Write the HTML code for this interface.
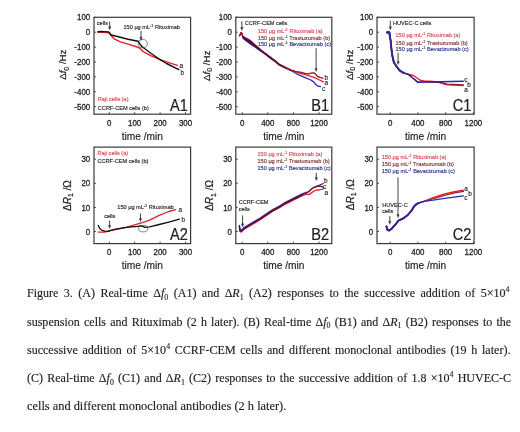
<!DOCTYPE html>
<html><head><meta charset="utf-8"><style>html,body{margin:0;padding:0;background:#fff;overflow:hidden}
body{position:relative;width:520px;height:432px}
#fig{position:absolute;left:0;top:0;width:520px;height:432px;filter:blur(0.3px)}
svg{display:block;position:absolute;left:0;top:0}
.cap{position:absolute;left:27.2px;font-family:"Liberation Serif","Times New Roman",serif;font-size:13px;line-height:13px;height:13px;color:#1c1c1c;-webkit-text-stroke:0.15px #1c1c1c;white-space:nowrap;transform:scaleX(0.925);transform-origin:0 0}
.cap i{font-style:italic}
.sb{font-size:8.5px;position:relative;top:2.6px;line-height:0}
.sp{font-size:8.5px;position:relative;top:-5px;line-height:0}</style></head>
<body>
<div id="fig">
<svg width="520" height="432" viewBox="0 0 520 432" font-family="Liberation Sans, Arial, sans-serif">
<rect width="520" height="432" fill="#fff"/>
<rect x="94.0" y="17.3" width="96.6" height="96.9" fill="none" stroke="#3a3a3a" stroke-width="1.2"/>
<path d="M109.3,114.2 L109.3,112.2" stroke="#3a3a3a" stroke-width="0.9"/>
<text transform="translate(109.25,125.90) scale(0.88,1)" font-size="9.0" text-anchor="middle" fill="#222" stroke="#222" stroke-width="0.3">0</text>
<path d="M134.7,114.2 L134.7,112.2" stroke="#3a3a3a" stroke-width="0.9"/>
<text transform="translate(134.67,125.90) scale(0.88,1)" font-size="9.0" text-anchor="middle" fill="#222" stroke="#222" stroke-width="0.3">100</text>
<path d="M160.1,114.2 L160.1,112.2" stroke="#3a3a3a" stroke-width="0.9"/>
<text transform="translate(160.09,125.90) scale(0.88,1)" font-size="9.0" text-anchor="middle" fill="#222" stroke="#222" stroke-width="0.3">200</text>
<path d="M185.5,114.2 L185.5,112.2" stroke="#3a3a3a" stroke-width="0.9"/>
<text transform="translate(185.52,125.90) scale(0.88,1)" font-size="9.0" text-anchor="middle" fill="#222" stroke="#222" stroke-width="0.3">300</text>
<path d="M94.0,17.3 L96.0,17.3" stroke="#3a3a3a" stroke-width="0.9"/>
<text transform="translate(90.20,20.40) scale(0.88,1)" font-size="9.0" text-anchor="end" fill="#222" stroke="#222" stroke-width="0.3">100</text>
<path d="M94.0,32.2 L96.0,32.2" stroke="#3a3a3a" stroke-width="0.9"/>
<text transform="translate(90.20,35.31) scale(0.88,1)" font-size="9.0" text-anchor="end" fill="#222" stroke="#222" stroke-width="0.3">0</text>
<path d="M94.0,47.1 L96.0,47.1" stroke="#3a3a3a" stroke-width="0.9"/>
<text transform="translate(90.20,50.22) scale(0.88,1)" font-size="9.0" text-anchor="end" fill="#222" stroke="#222" stroke-width="0.3">-100</text>
<path d="M94.0,62.0 L96.0,62.0" stroke="#3a3a3a" stroke-width="0.9"/>
<text transform="translate(90.20,65.12) scale(0.88,1)" font-size="9.0" text-anchor="end" fill="#222" stroke="#222" stroke-width="0.3">-200</text>
<path d="M94.0,76.9 L96.0,76.9" stroke="#3a3a3a" stroke-width="0.9"/>
<text transform="translate(90.20,80.03) scale(0.88,1)" font-size="9.0" text-anchor="end" fill="#222" stroke="#222" stroke-width="0.3">-300</text>
<path d="M94.0,91.8 L96.0,91.8" stroke="#3a3a3a" stroke-width="0.9"/>
<text transform="translate(90.20,94.94) scale(0.88,1)" font-size="9.0" text-anchor="end" fill="#222" stroke="#222" stroke-width="0.3">-400</text>
<path d="M94.0,106.7 L96.0,106.7" stroke="#3a3a3a" stroke-width="0.9"/>
<text transform="translate(90.20,109.85) scale(0.88,1)" font-size="9.0" text-anchor="end" fill="#222" stroke="#222" stroke-width="0.3">-500</text>
<text transform="translate(142.30,139.80)" font-size="10.2" text-anchor="middle" fill="#222" stroke="#222" stroke-width="0.15">time /min</text>
<text transform="translate(187.80,110.70) scale(0.9,1)" font-size="16.2" text-anchor="end" fill="#222" stroke="#111" stroke-width="0.2">A1</text>
<rect x="235.8" y="17.3" width="96.0" height="96.9" fill="none" stroke="#3a3a3a" stroke-width="1.2"/>
<path d="M242.2,114.2 L242.2,112.2" stroke="#3a3a3a" stroke-width="0.9"/>
<text transform="translate(242.20,125.90) scale(0.88,1)" font-size="9.0" text-anchor="middle" fill="#222" stroke="#222" stroke-width="0.3">0</text>
<path d="M267.8,114.2 L267.8,112.2" stroke="#3a3a3a" stroke-width="0.9"/>
<text transform="translate(267.80,125.90) scale(0.88,1)" font-size="9.0" text-anchor="middle" fill="#222" stroke="#222" stroke-width="0.3">400</text>
<path d="M293.4,114.2 L293.4,112.2" stroke="#3a3a3a" stroke-width="0.9"/>
<text transform="translate(293.40,125.90) scale(0.88,1)" font-size="9.0" text-anchor="middle" fill="#222" stroke="#222" stroke-width="0.3">800</text>
<path d="M319.0,114.2 L319.0,112.2" stroke="#3a3a3a" stroke-width="0.9"/>
<text transform="translate(319.00,125.90) scale(0.88,1)" font-size="9.0" text-anchor="middle" fill="#222" stroke="#222" stroke-width="0.3">1200</text>
<path d="M235.8,17.3 L237.8,17.3" stroke="#3a3a3a" stroke-width="0.9"/>
<text transform="translate(232.00,20.40) scale(0.88,1)" font-size="9.0" text-anchor="end" fill="#222" stroke="#222" stroke-width="0.3">100</text>
<path d="M235.8,32.2 L237.8,32.2" stroke="#3a3a3a" stroke-width="0.9"/>
<text transform="translate(232.00,35.31) scale(0.88,1)" font-size="9.0" text-anchor="end" fill="#222" stroke="#222" stroke-width="0.3">0</text>
<path d="M235.8,47.1 L237.8,47.1" stroke="#3a3a3a" stroke-width="0.9"/>
<text transform="translate(232.00,50.22) scale(0.88,1)" font-size="9.0" text-anchor="end" fill="#222" stroke="#222" stroke-width="0.3">-100</text>
<path d="M235.8,62.0 L237.8,62.0" stroke="#3a3a3a" stroke-width="0.9"/>
<text transform="translate(232.00,65.12) scale(0.88,1)" font-size="9.0" text-anchor="end" fill="#222" stroke="#222" stroke-width="0.3">-200</text>
<path d="M235.8,76.9 L237.8,76.9" stroke="#3a3a3a" stroke-width="0.9"/>
<text transform="translate(232.00,80.03) scale(0.88,1)" font-size="9.0" text-anchor="end" fill="#222" stroke="#222" stroke-width="0.3">-300</text>
<path d="M235.8,91.8 L237.8,91.8" stroke="#3a3a3a" stroke-width="0.9"/>
<text transform="translate(232.00,94.94) scale(0.88,1)" font-size="9.0" text-anchor="end" fill="#222" stroke="#222" stroke-width="0.3">-400</text>
<path d="M235.8,106.7 L237.8,106.7" stroke="#3a3a3a" stroke-width="0.9"/>
<text transform="translate(232.00,109.85) scale(0.88,1)" font-size="9.0" text-anchor="end" fill="#222" stroke="#222" stroke-width="0.3">-500</text>
<text transform="translate(283.80,139.80)" font-size="10.2" text-anchor="middle" fill="#222" stroke="#222" stroke-width="0.15">time /min</text>
<text transform="translate(329.00,110.70) scale(0.9,1)" font-size="16.2" text-anchor="end" fill="#222" stroke="#111" stroke-width="0.2">B1</text>
<rect x="377.0" y="17.3" width="97.10000000000002" height="96.9" fill="none" stroke="#3a3a3a" stroke-width="1.2"/>
<path d="M390.2,114.2 L390.2,112.2" stroke="#3a3a3a" stroke-width="0.9"/>
<text transform="translate(390.18,125.90) scale(0.88,1)" font-size="9.0" text-anchor="middle" fill="#222" stroke="#222" stroke-width="0.3">0</text>
<path d="M417.9,114.2 L417.9,112.2" stroke="#3a3a3a" stroke-width="0.9"/>
<text transform="translate(417.92,125.90) scale(0.88,1)" font-size="9.0" text-anchor="middle" fill="#222" stroke="#222" stroke-width="0.3">400</text>
<path d="M445.7,114.2 L445.7,112.2" stroke="#3a3a3a" stroke-width="0.9"/>
<text transform="translate(445.66,125.90) scale(0.88,1)" font-size="9.0" text-anchor="middle" fill="#222" stroke="#222" stroke-width="0.3">800</text>
<path d="M473.4,114.2 L473.4,112.2" stroke="#3a3a3a" stroke-width="0.9"/>
<text transform="translate(473.41,125.90) scale(0.88,1)" font-size="9.0" text-anchor="middle" fill="#222" stroke="#222" stroke-width="0.3">1200</text>
<path d="M377.0,17.3 L379.0,17.3" stroke="#3a3a3a" stroke-width="0.9"/>
<text transform="translate(373.20,20.40) scale(0.88,1)" font-size="9.0" text-anchor="end" fill="#222" stroke="#222" stroke-width="0.3">100</text>
<path d="M377.0,32.2 L379.0,32.2" stroke="#3a3a3a" stroke-width="0.9"/>
<text transform="translate(373.20,35.31) scale(0.88,1)" font-size="9.0" text-anchor="end" fill="#222" stroke="#222" stroke-width="0.3">0</text>
<path d="M377.0,47.1 L379.0,47.1" stroke="#3a3a3a" stroke-width="0.9"/>
<text transform="translate(373.20,50.22) scale(0.88,1)" font-size="9.0" text-anchor="end" fill="#222" stroke="#222" stroke-width="0.3">-100</text>
<path d="M377.0,62.0 L379.0,62.0" stroke="#3a3a3a" stroke-width="0.9"/>
<text transform="translate(373.20,65.12) scale(0.88,1)" font-size="9.0" text-anchor="end" fill="#222" stroke="#222" stroke-width="0.3">-200</text>
<path d="M377.0,76.9 L379.0,76.9" stroke="#3a3a3a" stroke-width="0.9"/>
<text transform="translate(373.20,80.03) scale(0.88,1)" font-size="9.0" text-anchor="end" fill="#222" stroke="#222" stroke-width="0.3">-300</text>
<path d="M377.0,91.8 L379.0,91.8" stroke="#3a3a3a" stroke-width="0.9"/>
<text transform="translate(373.20,94.94) scale(0.88,1)" font-size="9.0" text-anchor="end" fill="#222" stroke="#222" stroke-width="0.3">-400</text>
<path d="M377.0,106.7 L379.0,106.7" stroke="#3a3a3a" stroke-width="0.9"/>
<text transform="translate(373.20,109.85) scale(0.88,1)" font-size="9.0" text-anchor="end" fill="#222" stroke="#222" stroke-width="0.3">-500</text>
<text transform="translate(425.55,139.80)" font-size="10.2" text-anchor="middle" fill="#222" stroke="#222" stroke-width="0.15">time /min</text>
<text transform="translate(471.30,110.70) scale(0.9,1)" font-size="16.2" text-anchor="end" fill="#222" stroke="#111" stroke-width="0.2">C1</text>
<rect x="94.0" y="147.1" width="96.6" height="96.5" fill="none" stroke="#3a3a3a" stroke-width="1.2"/>
<path d="M109.3,243.6 L109.3,241.6" stroke="#3a3a3a" stroke-width="0.9"/>
<text transform="translate(109.25,254.70) scale(0.88,1)" font-size="9.0" text-anchor="middle" fill="#222" stroke="#222" stroke-width="0.3">0</text>
<path d="M134.7,243.6 L134.7,241.6" stroke="#3a3a3a" stroke-width="0.9"/>
<text transform="translate(134.67,254.70) scale(0.88,1)" font-size="9.0" text-anchor="middle" fill="#222" stroke="#222" stroke-width="0.3">100</text>
<path d="M160.1,243.6 L160.1,241.6" stroke="#3a3a3a" stroke-width="0.9"/>
<text transform="translate(160.09,254.70) scale(0.88,1)" font-size="9.0" text-anchor="middle" fill="#222" stroke="#222" stroke-width="0.3">200</text>
<path d="M185.5,243.6 L185.5,241.6" stroke="#3a3a3a" stroke-width="0.9"/>
<text transform="translate(185.52,254.70) scale(0.88,1)" font-size="9.0" text-anchor="middle" fill="#222" stroke="#222" stroke-width="0.3">300</text>
<path d="M94.0,159.2 L96.0,159.2" stroke="#3a3a3a" stroke-width="0.9"/>
<text transform="translate(90.20,162.26) scale(0.88,1)" font-size="9.0" text-anchor="end" fill="#222" stroke="#222" stroke-width="0.3">30</text>
<path d="M94.0,183.3 L96.0,183.3" stroke="#3a3a3a" stroke-width="0.9"/>
<text transform="translate(90.20,186.39) scale(0.88,1)" font-size="9.0" text-anchor="end" fill="#222" stroke="#222" stroke-width="0.3">20</text>
<path d="M94.0,207.4 L96.0,207.4" stroke="#3a3a3a" stroke-width="0.9"/>
<text transform="translate(90.20,210.51) scale(0.88,1)" font-size="9.0" text-anchor="end" fill="#222" stroke="#222" stroke-width="0.3">10</text>
<path d="M94.0,231.5 L96.0,231.5" stroke="#3a3a3a" stroke-width="0.9"/>
<text transform="translate(90.20,234.64) scale(0.88,1)" font-size="9.0" text-anchor="end" fill="#222" stroke="#222" stroke-width="0.3">0</text>
<text transform="translate(142.30,269.20)" font-size="10.2" text-anchor="middle" fill="#222" stroke="#222" stroke-width="0.15">time /min</text>
<text transform="translate(187.80,240.10) scale(0.9,1)" font-size="16.2" text-anchor="end" fill="#222" stroke="#111" stroke-width="0.2">A2</text>
<rect x="235.8" y="147.1" width="96.0" height="96.5" fill="none" stroke="#3a3a3a" stroke-width="1.2"/>
<path d="M242.2,243.6 L242.2,241.6" stroke="#3a3a3a" stroke-width="0.9"/>
<text transform="translate(242.20,254.70) scale(0.88,1)" font-size="9.0" text-anchor="middle" fill="#222" stroke="#222" stroke-width="0.3">0</text>
<path d="M267.8,243.6 L267.8,241.6" stroke="#3a3a3a" stroke-width="0.9"/>
<text transform="translate(267.80,254.70) scale(0.88,1)" font-size="9.0" text-anchor="middle" fill="#222" stroke="#222" stroke-width="0.3">400</text>
<path d="M293.4,243.6 L293.4,241.6" stroke="#3a3a3a" stroke-width="0.9"/>
<text transform="translate(293.40,254.70) scale(0.88,1)" font-size="9.0" text-anchor="middle" fill="#222" stroke="#222" stroke-width="0.3">800</text>
<path d="M319.0,243.6 L319.0,241.6" stroke="#3a3a3a" stroke-width="0.9"/>
<text transform="translate(319.00,254.70) scale(0.88,1)" font-size="9.0" text-anchor="middle" fill="#222" stroke="#222" stroke-width="0.3">1200</text>
<path d="M235.8,159.2 L237.8,159.2" stroke="#3a3a3a" stroke-width="0.9"/>
<text transform="translate(232.00,162.26) scale(0.88,1)" font-size="9.0" text-anchor="end" fill="#222" stroke="#222" stroke-width="0.3">30</text>
<path d="M235.8,183.3 L237.8,183.3" stroke="#3a3a3a" stroke-width="0.9"/>
<text transform="translate(232.00,186.39) scale(0.88,1)" font-size="9.0" text-anchor="end" fill="#222" stroke="#222" stroke-width="0.3">20</text>
<path d="M235.8,207.4 L237.8,207.4" stroke="#3a3a3a" stroke-width="0.9"/>
<text transform="translate(232.00,210.51) scale(0.88,1)" font-size="9.0" text-anchor="end" fill="#222" stroke="#222" stroke-width="0.3">10</text>
<path d="M235.8,231.5 L237.8,231.5" stroke="#3a3a3a" stroke-width="0.9"/>
<text transform="translate(232.00,234.64) scale(0.88,1)" font-size="9.0" text-anchor="end" fill="#222" stroke="#222" stroke-width="0.3">0</text>
<text transform="translate(283.80,269.20)" font-size="10.2" text-anchor="middle" fill="#222" stroke="#222" stroke-width="0.15">time /min</text>
<text transform="translate(329.00,240.10) scale(0.9,1)" font-size="16.2" text-anchor="end" fill="#222" stroke="#111" stroke-width="0.2">B2</text>
<rect x="377.0" y="147.1" width="97.10000000000002" height="96.5" fill="none" stroke="#3a3a3a" stroke-width="1.2"/>
<path d="M390.2,243.6 L390.2,241.6" stroke="#3a3a3a" stroke-width="0.9"/>
<text transform="translate(390.18,254.70) scale(0.88,1)" font-size="9.0" text-anchor="middle" fill="#222" stroke="#222" stroke-width="0.3">0</text>
<path d="M417.9,243.6 L417.9,241.6" stroke="#3a3a3a" stroke-width="0.9"/>
<text transform="translate(417.92,254.70) scale(0.88,1)" font-size="9.0" text-anchor="middle" fill="#222" stroke="#222" stroke-width="0.3">400</text>
<path d="M445.7,243.6 L445.7,241.6" stroke="#3a3a3a" stroke-width="0.9"/>
<text transform="translate(445.66,254.70) scale(0.88,1)" font-size="9.0" text-anchor="middle" fill="#222" stroke="#222" stroke-width="0.3">800</text>
<path d="M473.4,243.6 L473.4,241.6" stroke="#3a3a3a" stroke-width="0.9"/>
<text transform="translate(473.41,254.70) scale(0.88,1)" font-size="9.0" text-anchor="middle" fill="#222" stroke="#222" stroke-width="0.3">1200</text>
<path d="M377.0,159.2 L379.0,159.2" stroke="#3a3a3a" stroke-width="0.9"/>
<text transform="translate(373.20,162.26) scale(0.88,1)" font-size="9.0" text-anchor="end" fill="#222" stroke="#222" stroke-width="0.3">30</text>
<path d="M377.0,183.3 L379.0,183.3" stroke="#3a3a3a" stroke-width="0.9"/>
<text transform="translate(373.20,186.39) scale(0.88,1)" font-size="9.0" text-anchor="end" fill="#222" stroke="#222" stroke-width="0.3">20</text>
<path d="M377.0,207.4 L379.0,207.4" stroke="#3a3a3a" stroke-width="0.9"/>
<text transform="translate(373.20,210.51) scale(0.88,1)" font-size="9.0" text-anchor="end" fill="#222" stroke="#222" stroke-width="0.3">10</text>
<path d="M377.0,231.5 L379.0,231.5" stroke="#3a3a3a" stroke-width="0.9"/>
<text transform="translate(373.20,234.64) scale(0.88,1)" font-size="9.0" text-anchor="end" fill="#222" stroke="#222" stroke-width="0.3">0</text>
<text transform="translate(425.55,269.20)" font-size="10.2" text-anchor="middle" fill="#222" stroke="#222" stroke-width="0.15">time /min</text>
<text transform="translate(471.30,240.10) scale(0.9,1)" font-size="16.2" text-anchor="end" fill="#222" stroke="#111" stroke-width="0.2">C2</text>
<text transform="translate(66.4,64.7) rotate(-90)" font-size="9.7" text-anchor="middle" fill="#222" stroke="#222" stroke-width="0.22">&#916;<tspan font-style="italic">f</tspan><tspan font-size="7" dy="2.2">0</tspan><tspan dy="-2.2"> /Hz</tspan></text>
<text transform="translate(210.2,65.8) rotate(-90)" font-size="9.7" text-anchor="middle" fill="#222" stroke="#222" stroke-width="0.22">&#916;<tspan font-style="italic">f</tspan><tspan font-size="7" dy="2.2">0</tspan><tspan dy="-2.2"> /Hz</tspan></text>
<text transform="translate(352.5,64.8) rotate(-90)" font-size="9.7" text-anchor="middle" fill="#222" stroke="#222" stroke-width="0.22">&#916;<tspan font-style="italic">f</tspan><tspan font-size="7" dy="2.2">0</tspan><tspan dy="-2.2"> /Hz</tspan></text>
<text transform="translate(71.1,195.6) rotate(-90)" font-size="10" text-anchor="middle" fill="#222" stroke="#222" stroke-width="0.22">&#916;<tspan font-style="italic">R</tspan><tspan font-size="7" dy="2.2">1</tspan><tspan dy="-2.2"> /&#937;</tspan></text>
<text transform="translate(213.4,195.4) rotate(-90)" font-size="10" text-anchor="middle" fill="#222" stroke="#222" stroke-width="0.22">&#916;<tspan font-style="italic">R</tspan><tspan font-size="7" dy="2.2">1</tspan><tspan dy="-2.2"> /&#937;</tspan></text>
<text transform="translate(354.2,194.8) rotate(-90)" font-size="10" text-anchor="middle" fill="#222" stroke="#222" stroke-width="0.22">&#916;<tspan font-style="italic">R</tspan><tspan font-size="7" dy="2.2">1</tspan><tspan dy="-2.2"> /&#937;</tspan></text>
<path d="M98.0,32.4 L104.0,32.4 L108.8,32.7 L111.2,35.8 L114.2,38.8 L120.4,41.9 L128.1,44.2 L135.8,46.5 L139.6,48.1 L141.9,50.4 L145.0,52.7 L151.2,55.8 L158.8,59.2 L166.5,61.9 L177.3,65.3" fill="none" stroke="#e4202c" stroke-width="1.4" stroke-linejoin="round" stroke-linecap="round"/>
<path d="M98.0,31.8 L101.0,31.4 L104.0,31.6 L108.8,31.9 L111.2,35.0 L120.4,37.3 L128.1,39.2 L138.1,41.2 L139.6,43.5 L141.9,46.5 L151.2,53.5 L158.8,58.8 L166.5,63.5 L178.8,69.6" fill="none" stroke="#111" stroke-width="1.4" stroke-linejoin="round" stroke-linecap="round"/>
<ellipse cx="142.7" cy="43.7" rx="4.7" ry="4.3" fill="none" stroke="#333" stroke-width="0.6"/>
<text transform="translate(96.80,25.00)" font-size="5.6" text-anchor="start" fill="#222" stroke="#222" stroke-width="0.14">cells</text>
<path d="M109.7,21.6 L109.7,28" stroke="#3a3a3a" stroke-width="0.95"/>
<path d="M108.4,26.8 L109.7,30 L111.0,26.8 Z" fill="#3a3a3a" stroke="#3a3a3a" stroke-width="0.3"/>
<text transform="translate(123.50,28.60)" font-size="5.6" text-anchor="start" fill="#222" stroke="#222" stroke-width="0.14">150 &#956;g mL<tspan font-size="3.8" dy="-2">-1</tspan><tspan dy="2"> Rituximab</tspan></text>
<path d="M141,30.8 L141,38.5" stroke="#3a3a3a" stroke-width="0.95"/>
<path d="M139.7,37.3 L141,40.5 L142.3,37.3 Z" fill="#3a3a3a" stroke="#3a3a3a" stroke-width="0.3"/>
<text transform="translate(179.60,67.60)" font-size="6.5" text-anchor="start" fill="#222" stroke="#222" stroke-width="0.14">a</text>
<text transform="translate(180.60,75.00)" font-size="6.5" text-anchor="start" fill="#222" stroke="#222" stroke-width="0.14">b</text>
<text transform="translate(97.80,101.40)" font-size="5.6" text-anchor="start" fill="#dc4656" stroke="#dc4656" stroke-width="0.14">Raji cells (a)</text>
<text transform="translate(97.80,109.70)" font-size="5.6" text-anchor="start" fill="#222" stroke="#222" stroke-width="0.14">CCRF-CEM cells (b)</text>
<path d="M239.6,35.7 L241.2,32.5 L242.0,33.7 L242.9,37.5 L243.5,38.8 L250.1,43.6 L254.2,46.4 L262.3,52.1 L270.4,58.2 L276.0,62.2 L279.1,65.0 L285.2,68.0 L291.5,70.8 L297.3,74.2 L304.0,77.1 L310.8,80.0 L313.7,81.9 L315.6,84.3 L317.5,85.8 L320.4,86.7" fill="none" stroke="#2428b4" stroke-width="1.3" stroke-linejoin="round" stroke-linecap="round"/>
<path d="M239.6,35.7 L241.2,32.5 L242.0,33.7 L242.9,36.2 L243.7,36.9 L250.1,40.3 L254.2,44.0 L262.3,50.9 L270.4,57.1 L276.0,61.2 L279.1,64.0 L285.2,67.2 L291.5,70.0 L297.3,72.3 L305.0,74.7 L311.7,76.6 L314.6,77.6 L318.5,79.5 L323.3,81.9" fill="none" stroke="#e4202c" stroke-width="1.3" stroke-linejoin="round" stroke-linecap="round"/>
<path d="M239.6,35.7 L241.2,32.5 L242.0,33.7 L242.9,36.9 L243.6,37.8 L250.1,42.0 L254.2,45.2 L262.3,51.5 L270.4,57.7 L276.0,61.7 L279.1,64.5 L285.2,67.6 L291.5,70.4 L295.4,71.3 L301.2,72.3 L305.0,73.3 L308.8,73.8 L310.8,73.1 L314.1,72.8 L315.6,74.2 L317.5,76.3 L320.4,77.6 L322.8,78.1" fill="none" stroke="#8c1c24" stroke-width="1.3" stroke-linejoin="round" stroke-linecap="round"/>
<path d="M242.9,36.2 L243.7,36.9 L250.1,40.3 L254.2,44.0 L262.3,50.9 L270.4,57.1 L276.0,61.2 L279.1,64.0 L285.2,67.2 L285.2,68.0 L279.1,65.0 L276.0,62.2 L270.4,58.2 L262.3,52.1 L254.2,46.4 L250.1,43.6 L243.5,38.8 L242.9,37.5 Z" fill="#4a1040" stroke="#4a1040" stroke-width="0.5" stroke-linejoin="round"/>
<text transform="translate(244.70,24.70)" font-size="5.6" text-anchor="start" fill="#222" stroke="#222" stroke-width="0.14">CCRF-CEM cells</text>
<path d="M241.9,21.2 L241.9,28.5" stroke="#3a3a3a" stroke-width="0.95"/>
<path d="M240.6,27.3 L241.9,30.5 L243.20000000000002,27.3 Z" fill="#3a3a3a" stroke="#3a3a3a" stroke-width="0.3"/>
<text transform="translate(257.90,32.70)" font-size="5.6" text-anchor="start" fill="#dc4656" stroke="#dc4656" stroke-width="0.14">150 &#956;g mL<tspan font-size="3.8" dy="-2">-1</tspan><tspan dy="2"> Rituximab (a)</tspan></text>
<text transform="translate(257.90,39.60)" font-size="5.6" text-anchor="start" fill="#7a3030" stroke="#7a3030" stroke-width="0.14">150 &#956;g mL<tspan font-size="3.8" dy="-2">-1</tspan><tspan dy="2"> Trastuzumab (b)</tspan></text>
<text transform="translate(257.90,45.90)" font-size="5.6" text-anchor="start" fill="#28308a" stroke="#28308a" stroke-width="0.14">150 &#956;g mL<tspan font-size="3.8" dy="-2">-1</tspan><tspan dy="2"> Bevacizumab (c)</tspan></text>
<path d="M316.1,48.2 L316.1,69.6" stroke="#3a3a3a" stroke-width="0.95"/>
<path d="M314.8,68.39999999999999 L316.1,71.6 L317.40000000000003,68.39999999999999 Z" fill="#3a3a3a" stroke="#3a3a3a" stroke-width="0.3"/>
<text transform="translate(324.60,79.60)" font-size="6.5" text-anchor="start" fill="#222" stroke="#222" stroke-width="0.14">b</text>
<text transform="translate(324.60,85.20)" font-size="6.5" text-anchor="start" fill="#222" stroke="#222" stroke-width="0.14">a</text>
<text transform="translate(321.90,90.80)" font-size="6.5" text-anchor="start" fill="#222" stroke="#222" stroke-width="0.14">c</text>
<path d="M387.0,32.4 L389.4,32.4 L389.8,36.0 L390.6,40.5 L391.2,47.2 L392.3,55.6 L393.9,62.5 L396.7,66.7 L398.8,69.4 L400.1,70.8 L403.6,72.9 L408.1,74.3 L413.5,75.5 L420.2,80.2 L424.2,80.9 L433.6,81.5 L440.4,82.9 L447.1,84.9 L463.3,85.6" fill="none" stroke="#e4202c" stroke-width="1.4" stroke-linejoin="round" stroke-linecap="round"/>
<path d="M387.0,32.4 L389.4,32.4 L389.8,36.0 L390.6,40.5 L391.2,47.2 L392.3,55.6 L393.9,62.5 L396.7,66.7 L398.8,69.4 L400.1,70.8 L403.6,72.9 L408.1,74.3 L413.5,78.5 L417.5,81.8 L421.5,82.2 L426.9,82.2 L440.4,82.4 L447.1,84.2 L463.3,84.9" fill="none" stroke="#8c1c24" stroke-width="1.3" stroke-linejoin="round" stroke-linecap="round"/>
<path d="M387.0,32.4 L389.4,32.4 L389.8,36.0 L390.6,40.5 L391.2,47.2 L392.3,55.6 L393.9,62.5 L396.7,66.7 L398.8,69.4 L400.1,70.8 L403.6,72.9 L408.1,74.3 L413.5,78.8 L417.5,82.2 L421.5,82.2 L426.9,81.8 L440.4,81.8 L463.3,81.3" fill="none" stroke="#2428b4" stroke-width="1.4" stroke-linejoin="round" stroke-linecap="round"/>
<path d="M387.0,32.4 L389.4,32.4 L389.8,36.0 L390.6,40.5 L391.2,47.2 L392.3,55.6 L393.9,62.5 L396.7,66.7 L398.8,69.4 L400.1,70.8 L403.6,72.9" fill="none" stroke="#3a2590" stroke-width="2.0" stroke-linejoin="round" stroke-linecap="round"/>
<rect x="386.6" y="31.2" width="3.2" height="2.4" fill="#2a2a9a"/>
<text transform="translate(393.00,25.00)" font-size="5.6" text-anchor="start" fill="#222" stroke="#222" stroke-width="0.14">HUVEC-C cells</text>
<path d="M390.3,20.8 L390.3,28" stroke="#3a3a3a" stroke-width="0.95"/>
<path d="M389.0,26.8 L390.3,30 L391.6,26.8 Z" fill="#3a3a3a" stroke="#3a3a3a" stroke-width="0.3"/>
<text transform="translate(395.50,37.40)" font-size="5.6" text-anchor="start" fill="#dc4656" stroke="#dc4656" stroke-width="0.14">150 &#956;g mL<tspan font-size="3.8" dy="-2">-1</tspan><tspan dy="2"> Rituximab (a)</tspan></text>
<text transform="translate(395.50,44.60)" font-size="5.6" text-anchor="start" fill="#7a3030" stroke="#7a3030" stroke-width="0.14">150 &#956;g mL<tspan font-size="3.8" dy="-2">-1</tspan><tspan dy="2"> Trastuzumab (b)</tspan></text>
<text transform="translate(395.50,51.00)" font-size="5.6" text-anchor="start" fill="#28308a" stroke="#28308a" stroke-width="0.14">150 &#956;g mL<tspan font-size="3.8" dy="-2">-1</tspan><tspan dy="2"> Bevacizumab (c)</tspan></text>
<path d="M398.1,52.6 L398.1,62.8" stroke="#3a3a3a" stroke-width="0.95"/>
<path d="M396.8,61.599999999999994 L398.1,64.8 L399.40000000000003,61.599999999999994 Z" fill="#3a3a3a" stroke="#3a3a3a" stroke-width="0.3"/>
<text transform="translate(464.30,82.00)" font-size="6.5" text-anchor="start" fill="#222" stroke="#222" stroke-width="0.14">c</text>
<text transform="translate(467.20,87.20)" font-size="6.5" text-anchor="start" fill="#222" stroke="#222" stroke-width="0.14">b</text>
<text transform="translate(464.30,92.40)" font-size="6.5" text-anchor="start" fill="#222" stroke="#222" stroke-width="0.14">a</text>
<path d="M98.3,232.1 L104.8,232.1 L110.1,230.7 L115.5,229.6 L126.3,227.4 L137.1,224.2 L142.4,222.6 L149.6,220.2 L159.2,215.4 L168.8,211.5 L175.6,209.6" fill="none" stroke="#e4202c" stroke-width="1.3" stroke-linejoin="round" stroke-linecap="round"/>
<path d="M98.3,225.3 L99.4,228.0 L101.5,230.1 L104.8,231.2 L108.0,231.4 L110.1,230.7 L115.5,229.1 L126.3,227.4 L137.1,226.4 L140.3,225.8 L142.9,226.4 L144.8,227.4 L149.6,226.9 L159.2,224.5 L168.8,222.1 L179.4,219.2" fill="none" stroke="#111" stroke-width="1.3" stroke-linejoin="round" stroke-linecap="round"/>
<ellipse cx="143.2" cy="228.6" rx="4.6" ry="3.3" fill="none" stroke="#333" stroke-width="0.6"/>
<text transform="translate(97.40,154.60)" font-size="5.6" text-anchor="start" fill="#dc4656" stroke="#dc4656" stroke-width="0.14">Raji cells (a)</text>
<text transform="translate(97.40,162.90)" font-size="5.6" text-anchor="start" fill="#222" stroke="#222" stroke-width="0.14">CCRF-CEM cells (b)</text>
<text transform="translate(117.30,209.30)" font-size="5.6" text-anchor="start" fill="#222" stroke="#222" stroke-width="0.14">150 &#956;g mL<tspan font-size="3.8" dy="-2">-1</tspan><tspan dy="2"> Rituximab</tspan></text>
<text transform="translate(178.40,212.00)" font-size="6.5" text-anchor="start" fill="#222" stroke="#222" stroke-width="0.14">a</text>
<text transform="translate(181.50,221.60)" font-size="6.5" text-anchor="start" fill="#222" stroke="#222" stroke-width="0.14">b</text>
<text transform="translate(104.20,217.60)" font-size="5.6" text-anchor="start" fill="#222" stroke="#222" stroke-width="0.14">cells</text>
<path d="M109.6,220.5 L109.6,226.6" stroke="#3a3a3a" stroke-width="0.95"/>
<path d="M108.3,225.4 L109.6,228.6 L110.89999999999999,225.4 Z" fill="#3a3a3a" stroke="#3a3a3a" stroke-width="0.3"/>
<path d="M140.5,213.5 L140.5,219.7" stroke="#3a3a3a" stroke-width="0.95"/>
<path d="M139.2,218.5 L140.5,221.7 L141.8,218.5 Z" fill="#3a3a3a" stroke="#3a3a3a" stroke-width="0.3"/>
<path d="M239.4,227.2 L239.9,231.5 L241.3,232.1 L244.0,229.4 L250.5,225.5 L259.8,220.0 L272.0,211.8 L279.9,207.5 L285.0,204.3 L294.3,199.7 L301.7,196.0 L306.3,194.1 L309.1,194.6 L312.8,191.9 L315.6,190.2 L319.3,190.0 L323.4,188.8" fill="none" stroke="#e4202c" stroke-width="1.3" stroke-linejoin="round" stroke-linecap="round"/>
<path d="M239.4,225.4 L239.9,229.7 L241.3,230.3 L244.0,227.6 L250.5,223.7 L259.8,218.2 L272.0,210.0 L279.9,205.7 L285.0,202.5 L294.3,197.9 L301.7,194.2 L306.3,192.3 L308.1,191.9 L311.9,188.6 L314.6,187.0 L318.3,186.0 L321.0,186.3 L323.0,187.2" fill="none" stroke="#2428b4" stroke-width="1.3" stroke-linejoin="round" stroke-linecap="round"/>
<path d="M239.4,226.3 L239.9,230.6 L241.3,231.2 L244.0,228.5 L250.5,224.6 L259.8,219.1 L272.0,210.9 L279.9,206.6 L285.0,203.4 L294.3,198.8 L301.7,195.1 L306.3,193.2 L309.0,191.5 L312.8,188.1 L316.5,186.3 L320.2,184.9 L323.4,183.5" fill="none" stroke="#8c1c24" stroke-width="1.3" stroke-linejoin="round" stroke-linecap="round"/>
<path d="M239.4,226.3 L239.9,230.6 L241.3,231.2 L244.0,228.5 L250.5,224.6 L259.8,219.1 L272.0,210.9 L279.9,206.6 L285.0,203.4 L294.3,198.8 L301.7,195.1" fill="none" stroke="#4a1248" stroke-width="1.2" stroke-linejoin="round" stroke-linecap="round"/>
<text transform="translate(257.50,155.70)" font-size="5.6" text-anchor="start" fill="#dc4656" stroke="#dc4656" stroke-width="0.14">150 &#956;g mL<tspan font-size="3.8" dy="-2">-1</tspan><tspan dy="2"> Rituximab (a)</tspan></text>
<text transform="translate(257.50,162.90)" font-size="5.6" text-anchor="start" fill="#7a3030" stroke="#7a3030" stroke-width="0.14">150 &#956;g mL<tspan font-size="3.8" dy="-2">-1</tspan><tspan dy="2"> Trastuzumab (b)</tspan></text>
<text transform="translate(257.50,170.30)" font-size="5.6" text-anchor="start" fill="#28308a" stroke="#28308a" stroke-width="0.14">150 &#956;g mL<tspan font-size="3.8" dy="-2">-1</tspan><tspan dy="2"> Bevacizumab (c)</tspan></text>
<path d="M316.3,172.8 L316.3,178.7" stroke="#3a3a3a" stroke-width="0.95"/>
<path d="M315.0,177.5 L316.3,180.7 L317.6,177.5 Z" fill="#3a3a3a" stroke="#3a3a3a" stroke-width="0.3"/>
<text transform="translate(324.00,183.20)" font-size="6.5" text-anchor="start" fill="#222" stroke="#222" stroke-width="0.14">b</text>
<text transform="translate(323.00,189.20)" font-size="6.5" text-anchor="start" fill="#222" stroke="#222" stroke-width="0.14">c</text>
<text transform="translate(324.40,194.80)" font-size="6.5" text-anchor="start" fill="#222" stroke="#222" stroke-width="0.14">a</text>
<text transform="translate(238.70,203.90)" font-size="5.6" text-anchor="start" fill="#222" stroke="#222" stroke-width="0.14">CCRF-CEM</text>
<text transform="translate(238.70,211.20)" font-size="5.6" text-anchor="start" fill="#222" stroke="#222" stroke-width="0.14">cells</text>
<path d="M242.6,215.4 L242.6,225" stroke="#3a3a3a" stroke-width="0.95"/>
<path d="M241.29999999999998,223.8 L242.6,227 L243.9,223.8 Z" fill="#3a3a3a" stroke="#3a3a3a" stroke-width="0.3"/>
<path d="M386.4,226.3 L387.5,230.0 L389.3,230.6 L391.6,228.8 L395.1,224.8 L398.5,220.7 L403.2,218.4 L407.8,214.9 L411.3,210.9 L414.2,206.2 L416.3,204.2 L419.0,202.9 L424.0,201.4 L433.1,198.6 L444.4,195.3 L455.6,192.6 L463.4,191.4" fill="none" stroke="#8c1c24" stroke-width="1.3" stroke-linejoin="round" stroke-linecap="round"/>
<path d="M386.4,226.3 L387.5,230.0 L389.3,230.6 L391.6,228.8 L395.1,224.8 L398.5,220.7 L403.2,218.4 L407.8,214.9 L411.3,210.9 L414.2,206.2 L416.3,204.2 L419.0,202.9 L424.0,201.4 L433.1,197.6 L444.4,193.8 L455.6,191.5 L463.4,190.2" fill="none" stroke="#e4202c" stroke-width="1.3" stroke-linejoin="round" stroke-linecap="round"/>
<path d="M386.4,226.3 L387.5,230.0 L389.3,230.6 L391.6,228.8 L395.1,224.8 L398.5,220.7 L403.2,218.4 L407.8,214.9 L411.3,210.9 L414.2,206.2 L416.3,204.2 L419.0,202.9 L424.0,201.4 L433.1,200.2 L444.4,198.4 L463.4,195.9" fill="none" stroke="#2428b4" stroke-width="1.3" stroke-linejoin="round" stroke-linecap="round"/>
<path d="M386.4,226.3 L387.5,230.0 L389.3,230.6 L391.6,228.8 L395.1,224.8 L398.5,220.7 L403.2,218.4 L407.8,214.9 L411.3,210.9 L414.2,206.2 L416.3,204.2 L419.0,202.9" fill="none" stroke="#3a1a90" stroke-width="1.9" stroke-linejoin="round" stroke-linecap="round"/>
<text transform="translate(381.70,159.40)" font-size="5.6" text-anchor="start" fill="#dc4656" stroke="#dc4656" stroke-width="0.14">150 &#956;g mL<tspan font-size="3.8" dy="-2">-1</tspan><tspan dy="2"> Rituximab (a)</tspan></text>
<text transform="translate(381.70,166.40)" font-size="5.6" text-anchor="start" fill="#7a3030" stroke="#7a3030" stroke-width="0.14">150 &#956;g mL<tspan font-size="3.8" dy="-2">-1</tspan><tspan dy="2"> Trastuzumab (b)</tspan></text>
<text transform="translate(381.70,172.90)" font-size="5.6" text-anchor="start" fill="#28308a" stroke="#28308a" stroke-width="0.14">150 &#956;g mL<tspan font-size="3.8" dy="-2">-1</tspan><tspan dy="2"> Bevacizumab (c)</tspan></text>
<text transform="translate(464.20,191.40)" font-size="6.5" text-anchor="start" fill="#222" stroke="#222" stroke-width="0.14">a</text>
<text transform="translate(468.20,195.90)" font-size="6.5" text-anchor="start" fill="#222" stroke="#222" stroke-width="0.14">b</text>
<text transform="translate(464.20,199.80)" font-size="6.5" text-anchor="start" fill="#222" stroke="#222" stroke-width="0.14">c</text>
<text transform="translate(382.20,206.80)" font-size="5.6" text-anchor="start" fill="#222" stroke="#222" stroke-width="0.14">HUVEC-C</text>
<text transform="translate(382.20,212.60)" font-size="5.6" text-anchor="start" fill="#222" stroke="#222" stroke-width="0.14">cells</text>
<path d="M389.8,216.1 L389.8,222.4" stroke="#3a3a3a" stroke-width="0.95"/>
<path d="M388.5,221.20000000000002 L389.8,224.4 L391.1,221.20000000000002 Z" fill="#3a3a3a" stroke="#3a3a3a" stroke-width="0.3"/>
<path d="M398,177.3 L398,215.8" stroke="#3a3a3a" stroke-width="0.95"/>
<path d="M396.7,214.60000000000002 L398,217.8 L399.3,214.60000000000002 Z" fill="#3a3a3a" stroke="#3a3a3a" stroke-width="0.3"/>
</svg>
<div class="cap" style="top:286.41px;width:521.7px;transform:scaleX(0.925);text-align:justify;text-align-last:justify;">Figure 3. (A) Real-time &#916;<i>f</i><span class="sb">0</span> (A1) and &#916;<i>R</i><span class="sb">1</span> (A2) responses to the successive addition of 5&#215;10<span class="sp">4</span></div>
<div class="cap" style="top:314.51px;width:523.4px;transform:scaleX(0.925);text-align:justify;text-align-last:justify;">suspension cells and Rituximab (2 h later). (B) Real-time &#916;<i>f</i><span class="sb">0</span> (B1) and &#916;<i>R</i><span class="sb">1</span> (B2) responses to the</div>
<div class="cap" style="top:342.81px;width:522.6px;transform:scaleX(0.925);text-align:justify;text-align-last:justify;">successive addition of 5&#215;10<span class="sp">4</span> CCRF-CEM cells and different monoclonal antibodies (19 h later).</div>
<div class="cap" style="top:371.11px;width:523.4px;transform:scaleX(0.925);text-align:justify;text-align-last:justify;">(C) Real-time &#916;<i>f</i><span class="sb">0</span> (C1) and &#916;<i>R</i><span class="sb">1</span> (C2) responses to the successive addition of 1.8 &#215;10<span class="sp">4</span> HUVEC-C</div>
<div class="cap" style="top:399.41px;width:315.5px;transform:scaleX(0.951);">cells and different monoclonal antibodies (2 h later).</div>
</div>
</body></html>
